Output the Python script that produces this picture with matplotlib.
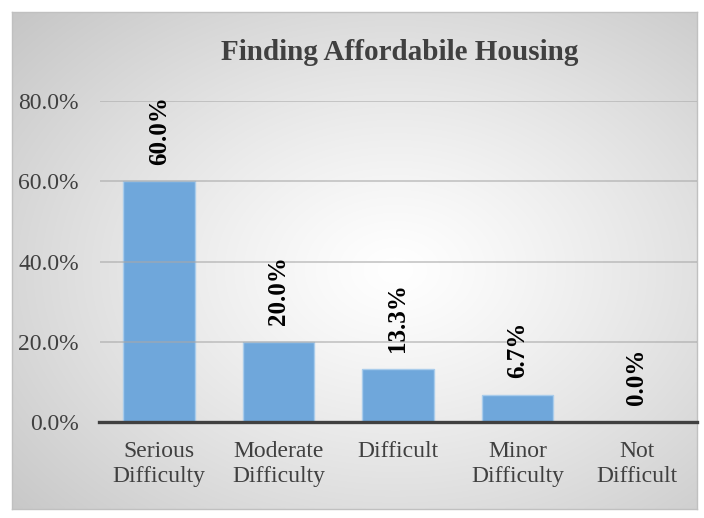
import numpy as np
import matplotlib
matplotlib.use("Agg")
import matplotlib.pyplot as plt
from matplotlib.ticker import FuncFormatter

categories = ["Serious\nDifficulty", "Moderate\nDifficulty", "Difficult", "Minor\nDifficulty", "Not\nDifficult"]
values = [60.0, 20.0, 13.3, 6.7, 0.0]
value_labels = ["60.0%", "20.0%", "13.3%", "6.7%", "0.0%"]
yticks = [0, 20, 40, 60, 80]
title = "Finding Affordabile Housing"

plt.rcParams['font.family'] = ['Liberation Serif', 'DejaVu Serif']

W, H = 704, 518
fig = plt.figure(figsize=(W / 100, H / 100), dpi=100)
fig.patch.set_facecolor('white')

# background frame with radial gradient
fx0, fy0, fx1, fy1 = 12, 12, 697, 509
bg = fig.add_axes([fx0 / W, 1 - fy1 / H, (fx1 - fx0) / W, (fy1 - fy0) / H])
bg.set_zorder(-10)
ny, nx = 200, 280
yy, xx = np.mgrid[0:1:ny * 1j, 0:1:nx * 1j]
cx, cy = 0.56, 0.52
r = np.sqrt(((xx - cx) / 0.75) ** 2 + ((yy - cy) / 0.75) ** 2)
r = np.clip(r, 0, 1)
shade = 1.0 - 0.22 * r ** 1.2
img = np.dstack([shade, shade, shade])
bg.imshow(img, aspect='auto', extent=[0, 1, 0, 1], interpolation='bilinear')
bg.set_xlim(0, 1)
bg.set_ylim(0, 1)
bg.set_xticks([])
bg.set_yticks([])
for s in bg.spines.values():
    s.set_color('#c0c0c0')
    s.set_linewidth(1.0)

# main axes
left_px, right_px, top_px, bot_px = 99.5, 696.5, 101, 422
ax = fig.add_axes([left_px / W, 1 - bot_px / H, (right_px - left_px) / W, (bot_px - top_px) / H])
ax.set_facecolor('none')
x = np.arange(len(categories))
ax.bar(x, values, width=0.6, color='#6FA7DB', edgecolor='#A9CCEB', linewidth=1.0, zorder=2)
ax.set_xlim(-0.5, len(categories) - 0.5)
ax.set_ylim(0, 80)
ax.set_yticks(yticks)
ax.yaxis.set_major_formatter(FuncFormatter(lambda v, p: f"{v:.1f}%"))
ax.set_xticks(x)
ax.set_xticklabels(categories, fontsize=17, color='#404040', linespacing=1.2)
ax.tick_params(axis='y', labelsize=17, labelcolor='#404040', length=0, pad=15)
ax.tick_params(axis='x', length=0, pad=14)
ax.grid(axis='y', color='#a8a8a8', linewidth=1.3, alpha=0.6, zorder=3)
ax.set_axisbelow(False)
for s in ['top', 'right', 'left']:
    ax.spines[s].set_visible(False)
ax.spines['bottom'].set_color('#404040')
ax.spines['bottom'].set_linewidth(2.4)
ax.spines['bottom'].set_zorder(5)

for xi, v, lab in zip(x, values, value_labels):
    ax.annotate(lab, (xi, v), xytext=(0, 12), textcoords='offset points',
                rotation=90, ha='center', va='bottom', fontsize=18,
                fontweight='bold', color='black', zorder=6, annotation_clip=False)

fig.text(400 / W, 1 - 52 / H, title, ha='center', va='center', fontsize=21,
         fontweight='bold', color='#404040')

fig.savefig('out.png', dpi=100)
